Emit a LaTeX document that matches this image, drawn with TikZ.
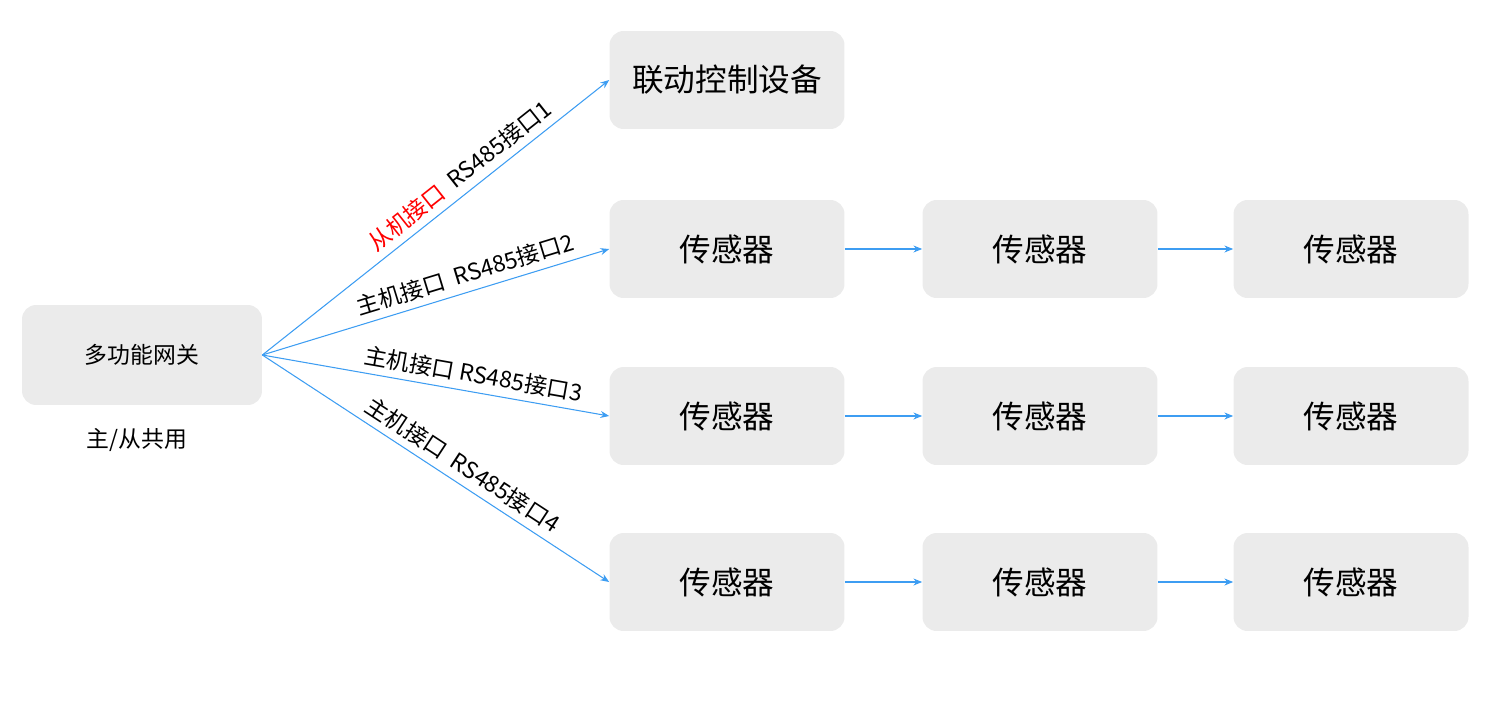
\documentclass[tikz,border=0pt]{standalone}
\usepackage{fontspec}
\setmainfont{Noto Sans CJK SC}
\usetikzlibrary{arrows.meta}
\definecolor{boxg}{HTML}{EBEBEB}
\definecolor{lineb}{HTML}{3D9DF2}
\begin{document}
\begin{tikzpicture}[x=0.02cm,y=-0.02cm,
  box/.style={fill=boxg,rounded corners=8pt,minimum width=4.7cm,minimum height=1.96cm,inner sep=0pt},
  big/.style={font=\fontsize{18}{21}\selectfont},
  arr/.style={draw=lineb,line width=0.6pt,-{Stealth[length=5pt,width=4pt]}},
  lab/.style={font=\fontsize{13}{15}\selectfont,sloped,above,inner sep=4pt}]
\useasboundingbox (0,0) rectangle (1486,713);
\node[box,minimum width=4.8cm,minimum height=2cm,font=\fontsize{13}{15}\selectfont] (gw) at (142,355) {多功能网关};
\node[font=\fontsize{13}{15}\selectfont] (gwl) at (137,440) {主/从共用};
\node[box,big] (ld) at (727,80) {联动控制设备};
\foreach \r/\y in {1/249,2/416,3/582}{
  \node[box,big] (s\r a) at (727,\y) {传感器};
  \node[box,big] (s\r b) at (1040,\y) {传感器};
  \node[box,big] (s\r c) at (1351,\y) {传感器};
  \draw[arr] (s\r a) -- (s\r b);
  \draw[arr] (s\r b) -- (s\r c);
}
\draw[arr] (gw.east) -- node[lab,pos=0.6]{\textcolor{red}{从机接口}\ \ RS485接口1} (ld.west);
\draw[arr] (gw.east) -- node[lab,pos=0.6]{主机接口\ \ RS485接口2} (s1a.west);
\draw[arr] (gw.east) -- node[lab,pos=0.6]{主机接口 RS485接口3} (s2a.west);
\draw[arr] (gw.east) -- node[lab,pos=0.55]{主机接口\ \ RS485接口4} (s3a.west);
\end{tikzpicture}
\end{document}
